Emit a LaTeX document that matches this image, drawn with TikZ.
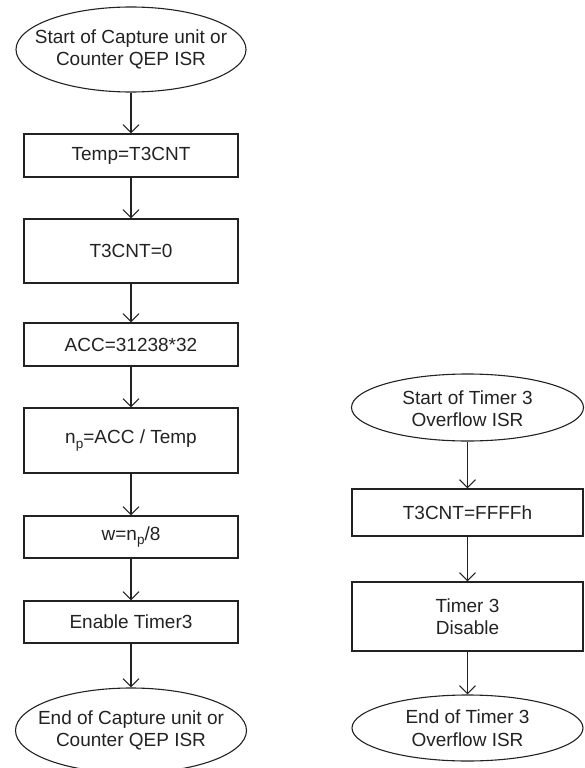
\documentclass[tikz,border=0pt]{standalone}
\usepackage{fontspec}
\setmainfont{Liberation Sans}
\usetikzlibrary{shapes.geometric,arrows.meta}
\definecolor{ink}{HTML}{222222}
\newcommand{\subp}{\raisebox{-4.5pt}{\fontsize{13.5}{13.5}\selectfont p}}
\begin{document}
\begin{tikzpicture}[x=1pt,y=-1pt,
  every node/.style={font=\fontsize{19}{22.5}\selectfont, text=ink},
  term/.style={draw=ink, line width=1.1pt, ellipse, inner sep=0pt},
  proc/.style={draw=ink, line width=1.1pt, rectangle, inner sep=0pt, align=center, minimum width=214pt},
  procr/.style={proc, minimum width=231pt},
  lbl/.style={align=center, inner sep=0pt},
  flow/.style={draw=ink, line width=1.1pt, -{Straight Barb[length=8pt,width=16pt]}}]
\useasboundingbox (0,0) rectangle (584,768);
% left column
\node[term, minimum width=230pt, minimum height=85pt] (s1) at (131,49.5) {};
\node[lbl] (s1t) at (s1) {Start of Capture unit or\\Counter QEP ISR};
\node[proc, minimum height=43pt] (b1) at (131,155.5) {Temp=T3CNT};
\node[proc, minimum height=64pt] (b2) at (131,251) {T3CNT=0};
\node[proc, minimum height=43pt] (b3) at (131,344.5) {ACC=31238*32};
\node[proc, minimum height=65pt] (b4) at (131,440.5) {n\subp=ACC / Temp};
\node[proc, minimum height=42pt] (b5) at (131,537) {w=n\subp/8};
\node[proc, minimum height=42pt] (b6) at (131,622) {Enable Timer3};
\node[term, minimum width=231pt, minimum height=85pt] (e1) at (131,730.5) {};
\node[lbl] (e1t) at (e1) {End of Capture unit or\\Counter QEP ISR};
% right column
\node[term, minimum width=232pt, minimum height=67pt] (s2) at (467.5,407.5) {};
\node[lbl] (s2t) at (467.5,408.5) {Start of Timer 3\\Overflow ISR};
\node[procr, minimum height=47pt] (r1) at (467.5,512.5) {T3CNT=FFFFh};
\node[procr, minimum height=69pt] (r2) at (467.5,616.5) {Timer 3\\Disable};
\node[term, minimum width=231pt, minimum height=66pt] (e2) at (467.5,728) {};
\node[lbl] (e2t) at (e2) {End of Timer 3\\Overflow ISR};
% connectors
\draw[flow] (s1) -- (b1);
\draw[flow] (b1) -- (b2);
\draw[flow] (b2) -- (b3);
\draw[flow] (b3) -- (b4);
\draw[flow] (b4) -- (b5);
\draw[flow] (b5) -- (b6);
\draw[flow] (b6) -- (e1);
\draw[flow] (s2) -- (r1);
\draw[flow] (r1) -- (r2);
\draw[flow] (r2) -- (e2);
\end{tikzpicture}
\end{document}
